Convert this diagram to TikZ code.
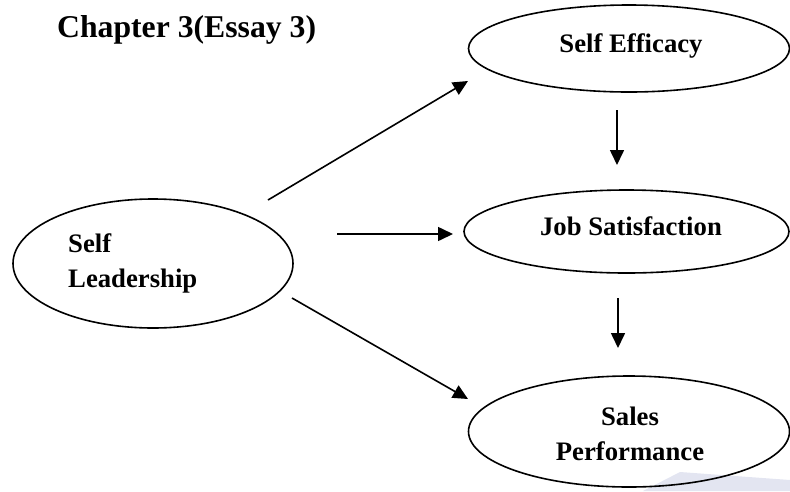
\documentclass[tikz,border=0pt]{standalone}
\usepackage{fontspec}
\setmainfont{Liberation Serif}
\usetikzlibrary{shapes.geometric,arrows.meta}
\definecolor{marklav}{HTML}{E3E5F1}
\tikzset{
  oval/.style={ellipse, draw, line width=1.6pt, inner sep=0pt},
  lbl/.style={inner sep=0pt, font=\bfseries\fontsize{26.7}{35}\selectfont},
  arr/.style={line width=1.6pt, -{Triangle[length=15pt,width=14pt]}}
}
\begin{document}
\begin{tikzpicture}[x=1pt,y=-1pt]
\useasboundingbox (0,0) rectangle (790,491);
% faint mark in the lower right corner
\fill[marklav] (643,491) -- (680,472) -- (790,480) -- (790,491) -- cycle;

% title
\node[inner sep=0pt, anchor=base west, font=\bfseries\fontsize{31.7}{38}\selectfont]
  (title) at (57,37) {Chapter 3(Essay 3)};

% constructs
\node[oval, minimum width=280pt, minimum height=129pt] (sl) at (153,263.5) {};
\node[oval, minimum width=321pt, minimum height=87pt] (se) at (629,48.5) {};
\node[oval, minimum width=325pt, minimum height=83pt] (js) at (626.5,231.5) {};
\node[oval, minimum width=321pt, minimum height=111pt] (sp) at (629,431.5) {};

% labels
\node[lbl, anchor=base west] (sl1) at (68,252) {Self};
\node[lbl, anchor=base west] (sl2) at (68,287) {Leadership};
\node[lbl, anchor=base] (se1) at (631,52) {Self Efficacy};
\node[lbl, anchor=base] (js1) at (631,235) {Job Satisfaction};
\node[lbl, anchor=base] (sp1) at (630,425) {Sales};
\node[lbl, anchor=base] (sp2) at (630,460) {Performance};

% arrow end points
\coordinate (a1s) at (268,200);  \coordinate (a1e) at (468,81);
\coordinate (a2s) at (337,234);  \coordinate (a2e) at (453,234);
\coordinate (a3s) at (292,298);  \coordinate (a3e) at (468,399);
\coordinate (a4s) at (617,110);  \coordinate (a4e) at (617,165);
\coordinate (a5s) at (618,298);  \coordinate (a5e) at (618,348);

\draw[arr] (a1s) -- (a1e);
\draw[arr] (a2s) -- (a2e);
\draw[arr] (a3s) -- (a3e);
\draw[arr] (a4s) -- (a4e);
\draw[arr] (a5s) -- (a5e);
\end{tikzpicture}
\end{document}
